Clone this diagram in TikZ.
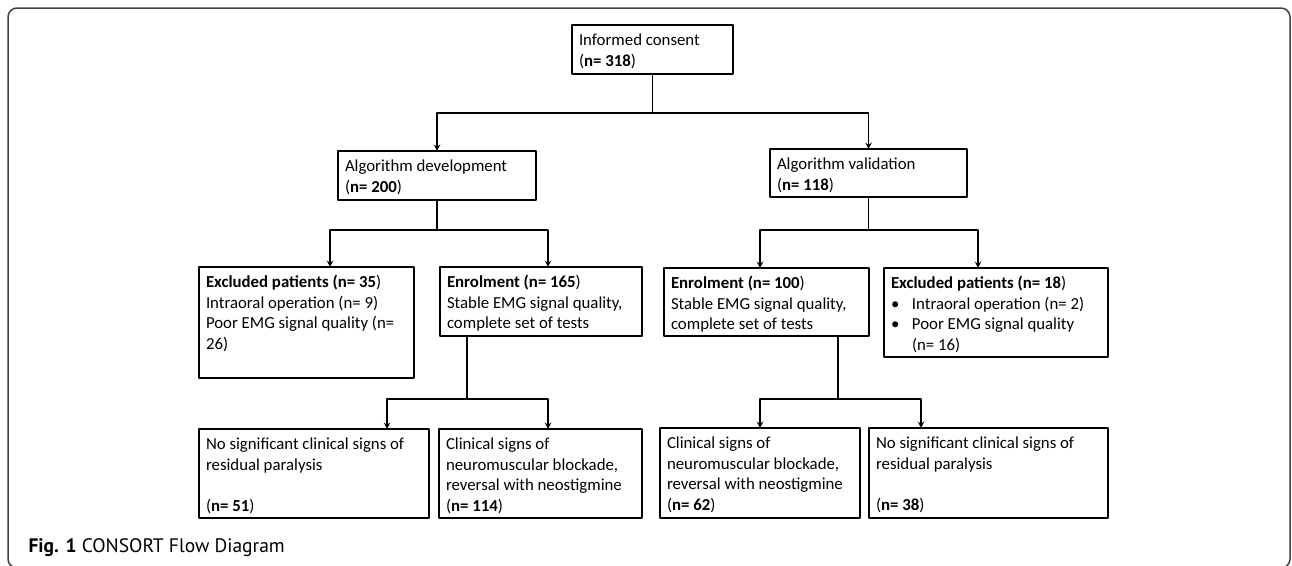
\documentclass[tikz,border=0pt]{standalone}
\usepackage{fontspec}
\setmainfont{Carlito}
\newfontfamily\capfont{PT Sans}
\usetikzlibrary{calc}
\newcommand{\cellbox}[3]{\parbox[c][#2][t]{#1}{\raggedright\rule{0pt}{16.5pt}#3}}
\newcommand{\bul}{\makebox[21pt][l]{\textbullet}}
\tikzset{
	flowbox/.style={draw, line width=2pt, inner xsep=7pt, inner ysep=4pt, outer sep=0pt, anchor=north west, font=\fontsize{16.8}{20.5}\selectfont},
	link/.style={line width=1.8pt}
}
\begin{document}
\begin{tikzpicture}[x=1pt,y=-1pt,line join = round,>=stealth]
	\useasboundingbox (0,0) rectangle (1292,565);
	\fill[white] (0,0) rectangle (1292,565);
	\draw[line width=1.5pt, black!75, rounded corners=9pt] (8,8) rectangle (1290,568);
	\node[flowbox] (ic) at (572,25) {\cellbox{147pt}{41pt}{Informed consent\\(\textbf{n= 318})}};
	\node[flowbox] (dev) at (338,151) {\cellbox{184pt}{41pt}{Algorithm development\\(\textbf{n= 200})}};
	\node[flowbox] (val) at (770,149) {\cellbox{183pt}{40pt}{Algorithm validation\\(\textbf{n= 118})}};
	\node[flowbox] (excla) at (199,267) {\cellbox{201pt}{103pt}{\textbf{Excluded patients (n= 35})\\Intraoral operation (n= 9)\\Poor EMG signal quality (n=\\26)}};
	\node[flowbox] (enra) at (440,267) {\cellbox{188pt}{61pt}{\textbf{Enrolment (n= 165})\\Stable EMG signal quality,\\complete set of tests}};
	\node[flowbox] (enrb) at (664,268) {\cellbox{191pt}{60pt}{\textbf{Enrolment (n= 100})\\Stable EMG signal quality,\\complete set of tests}};
	\node[flowbox] (exclb) at (884,268) {\cellbox{210pt}{81pt}{\textbf{Excluded patients (n= 18})\\\bul Intraoral operation (n= 2)\\\bul Poor EMG signal quality\\\hspace*{21pt}(n= 16)}};
	\node[flowbox] (nsa) at (199,429) {\cellbox{216pt}{81pt}{No significant clinical signs of\\residual paralysis\\[20.5pt](\textbf{n= 51})}};
	\node[flowbox] (csa) at (439,429) {\cellbox{189pt}{81pt}{Clinical signs of\\neuromuscular blockade,\\reversal with neostigmine\\(\textbf{n= 114})}};
	\node[flowbox] (csb) at (660,428) {\cellbox{186pt}{82pt}{Clinical signs of\\neuromuscular blockade,\\reversal with neostigmine\\(\textbf{n= 62})}};
	\node[flowbox] (nsb) at (869,428) {\cellbox{225pt}{82pt}{No significant clinical signs of\\residual paralysis\\[20.5pt](\textbf{n= 38})}};
	\node[anchor=base west, font=\capfont\fontsize{19.5}{22}\selectfont] (cap) at (25,552) {\textbf{Fig. 1} CONSORT Flow Diagram};
	\coordinate (ja) at ($(ic.south)+(0,39)$);
	\coordinate (jb) at ($(dev.south)+(0,30)$);
	\coordinate (jc) at ($(val.south)+(0,33)$);
	\coordinate (ea) at ([xshift=27pt]enra.south west);
	\coordinate (eb) at ([xshift=174pt]enrb.south west);
	\coordinate (jd) at ($(ea)+(0,63)$);
	\coordinate (je) at ($(eb)+(0,63)$);
	\draw[link] (ic.south) -- (ja);
	\draw[link,->] (ja) -| (dev.north);
	\draw[link,->] (ja) -| (val.north);
	\draw[link] (dev.south) -- (jb);
	\draw[link,->] (jb) -| ([xshift=23.5pt]excla.north);
	\draw[link,->] (jb) -| ([xshift=7pt]enra.north);
	\draw[link] (val.south) -- (jc);
	\draw[link,->] (jc) -| ([xshift=-6.5pt]enrb.north);
	\draw[link,->] (jc) -| ([xshift=-18pt]exclb.north);
	\draw[link] (ea) -- (jd);
	\draw[link,->] (jd) -| ([xshift=73pt]nsa.north);
	\draw[link,->] (jd) -| ([xshift=7.5pt]csa.north);
	\draw[link] (eb) -- (je);
	\draw[link,->] (je) -| (csb.north);
	\draw[link,->] (je) -| ([xshift=-67.5pt]nsb.north);
\end{tikzpicture}
\end{document}
